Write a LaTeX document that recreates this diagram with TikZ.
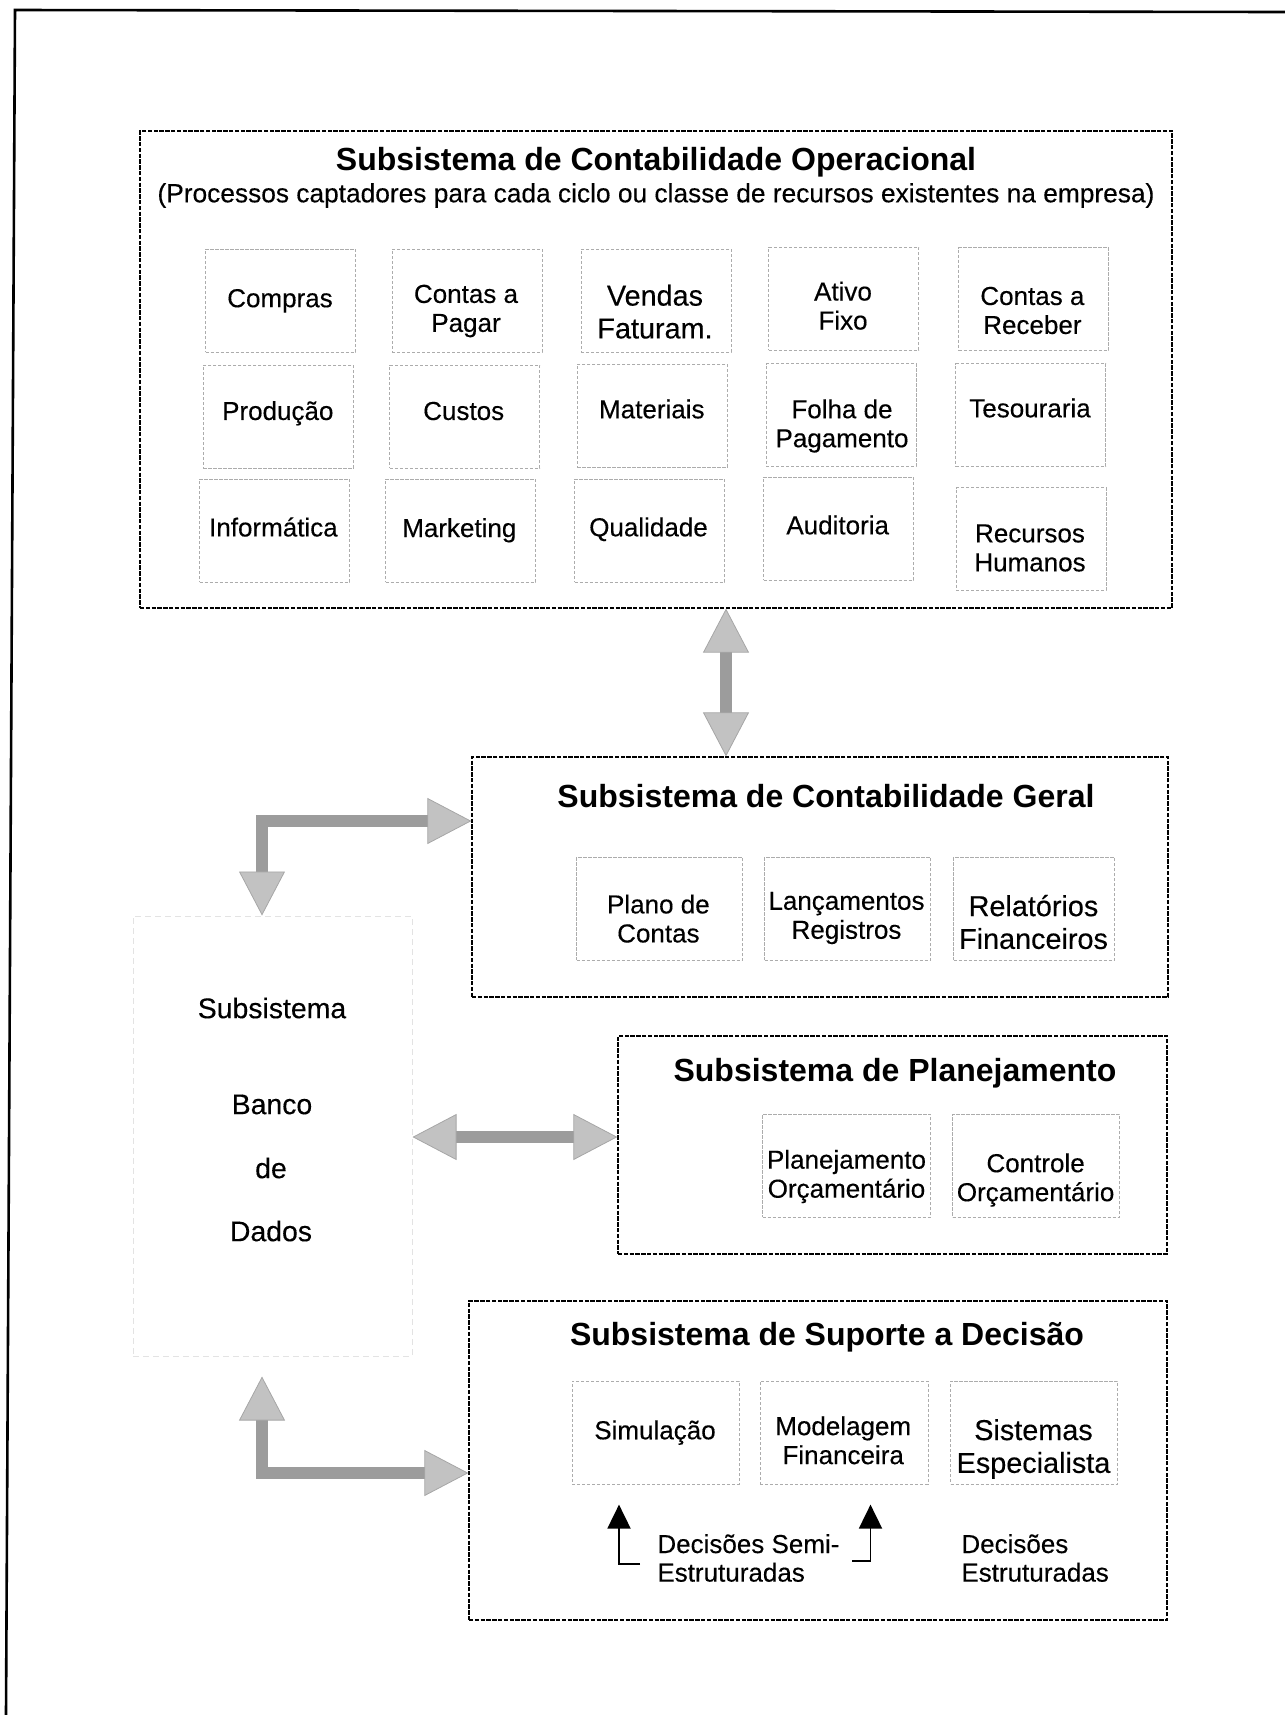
\documentclass[tikz,border=0pt]{standalone}
\usepackage{fontspec}
\setmainfont{Liberation Sans}
% slightly heavier face for the body texts
\newfontfamily\bodyfont{Liberation Sans}[FakeBold=0.3]
\usetikzlibrary{arrows.meta}

% one process cell: box node plus its caption node
% [text style]{name}{box x}{box y}{box width}{text x}{text y}{text}
\newcommand{\mkcell}[8][celltext]{%
  \node[cellbox, minimum width=#5] (#2) at (#3,#4) {};
  \node[#1] (#2-txt) at (#6,#7) {#8};}

\begin{document}
\begin{tikzpicture}[x=0.5pt,y=-0.5pt,
  frame/.style={line width=1.3pt, line join=miter},
  panel/.style={draw=black, line width=0.6pt, dash pattern=on 2.2pt off 0.7pt, inner sep=0pt},
  cellbox/.style={draw=gray!65, line width=0.5pt, dash pattern=on 1.6pt off 0.9pt,
                  minimum height=51.5pt, inner sep=0pt},
  dbbox/.style={draw=gray!22, line width=0.5pt, dash pattern=on 3pt off 2pt, inner sep=0pt},
  celltext/.style={align=center, font=\bodyfont\fontsize{13}{14.5}\selectfont, inner sep=0pt},
  bigtext/.style={align=center, font=\bodyfont\fontsize{14.4}{16.4}\selectfont, inner sep=0pt},
  dbtext/.style={font=\bodyfont\fontsize{14.2}{16}\selectfont, inner sep=0pt},
  decnote/.style={align=left, anchor=west, font=\bodyfont\fontsize{13}{14.3}\selectfont, inner sep=0pt},
  title/.style={font=\fontsize{16}{19}\selectfont\bfseries, inner sep=0pt},
  subtitle/.style={font=\bodyfont\fontsize{13.15}{15}\selectfont, inner sep=0pt},
  garrow/.style={line width=6pt, draw=gray!78, line join=miter,
    arrows={Triangle[width=23pt,length=22pt,color=gray!70,fill=gray!48,line width=0.4pt]-Triangle[width=23pt,length=22pt,color=gray!70,fill=gray!48,line width=0.4pt]}},
  decarrow/.style={line width=0.95pt, line join=miter, -{Triangle[width=11.5pt,length=12pt]}},
]
\useasboundingbox (0,0) rectangle (1285,1715);

% page frame
\draw[frame] (1285,12) -- (15,10) -- (6,1715);

% ---- panels ----
\node[panel, minimum width=516pt, minimum height=238.5pt] (A) at (656,369.5) {};
\node[panel, minimum width=348pt, minimum height=120pt] (B) at (820,877) {};
\node[panel, minimum width=274.5pt, minimum height=109pt] (C) at (892.5,1145) {};
\node[panel, minimum width=349pt, minimum height=159.5pt] (D) at (818,1460.5) {};
\node[dbbox, minimum width=139.5pt, minimum height=220pt] (E) at (272.5,1136) {};

% ---- operational accounting ----
\node[title] (A-title) at (656,162.5) {Subsistema de Contabilidade Operacional};
\node[subtitle] (A-sub) at (656,195.5) {(Processos captadores para cada ciclo ou classe de recursos existentes na empresa)};

\mkcell{compras}{280.5}{300.7}{75pt}{280}{300.8}{Compras}
\mkcell{pagar}{467}{300.7}{75pt}{466}{311}{Contas a\\Pagar}
\mkcell[bigtext]{vendas}{656}{300.5}{75pt}{655}{311.7}{Vendas\\Faturam.}
\mkcell{ativo}{843.7}{298.5}{75pt}{843}{305.7}{Ativo\\Fixo}
\mkcell{receber}{1033.5}{299}{75pt}{1032.4}{310.5}{Contas a\\Receber}

\mkcell{producao}{278.3}{416.7}{75pt}{277.8}{413.3}{Produção}
\mkcell{custos}{464.8}{416.7}{75pt}{463.7}{411}{Custos}
\mkcell{materiais}{652.3}{415.5}{75pt}{651.8}{409}{Materiais}
\mkcell{folha}{841}{415}{75pt}{842}{426}{Folha de\\Pagamento}
\mkcell{tesouraria}{1030.7}{415}{75pt}{1030}{408}{Tesouraria}

\mkcell{informatica}{274.5}{530.5}{75pt}{273.4}{527}{Informática}
\mkcell{marketing}{460.5}{530.5}{75pt}{459.3}{530.3}{Marketing}
\mkcell{qualidade}{649.5}{530.5}{75pt}{648.5}{529.3}{Qualidade}
\mkcell{auditoria}{838.5}{528.5}{75pt}{837.7}{525}{Auditoria}
\mkcell{rh}{1031}{539}{75pt}{1030}{548}{Recursos\\Humanos}

% ---- general accounting ----
\node[title] (B-title) at (826,796) {Subsistema de Contabilidade Geral};
\mkcell{plano}{659.5}{908.8}{83pt}{658.4}{918.6}{Plano de\\Contas}
\mkcell{lanc}{847.5}{908.8}{83pt}{846.5}{918}{Lançamentos\\Registros}
\mkcell[bigtext]{relat}{1034}{908.8}{80.5pt}{1033.5}{922}{Relatórios\\Financeiros}

% ---- planning ----
\node[title] (C-title) at (895,1073) {Subsistema de Planejamento};
\mkcell{planorc}{846.5}{1165.8}{84pt}{846.5}{1176.5}{Planejamento\\Orçamentário}
\mkcell{controle}{1036}{1165.8}{83.5pt}{1035.6}{1180}{Controle\\Orçamentário}

% ---- decision support ----
\node[title] (D-title) at (827,1337) {Subsistema de Suporte a Decisão};
\mkcell{sim}{655.6}{1432.6}{83.5pt}{655}{1432.6}{Simulação}
\mkcell{model}{844.2}{1432.6}{84pt}{843.2}{1440.3}{Modelagem\\Financeira}
\mkcell[bigtext]{sist}{1034}{1432.6}{83.5pt}{1033.5}{1449}{Sistemas\\Especialista}

\node[decnote] (semi) at (657,1558) {Decisões Semi-\\Estruturadas};
\node[decnote] (estr) at (961,1558) {Decisões\\Estruturadas};

\coordinate (semiL) at (640,1564);
\coordinate (semiLx) at (619,0);
\draw[decarrow, shorten >=10pt] (semiL) -| (sim.south -| semiLx);
\coordinate (semiR) at (852,1561);
\coordinate (semiRx) at (870.5,0);
\draw[decarrow, shorten >=10pt] (semiR) -| (model.south -| semiRx);

% ---- database ----
\node[dbtext] (E-l1) at (272,1008) {Subsistema};
\node[dbtext] (E-l2) at (272,1104.5) {Banco};
\node[dbtext] (E-l3) at (271,1168) {de};
\node[dbtext] (E-l4) at (271,1231) {Dados};

% ---- data flows ----
\coordinate (v1) at (726,0);
\draw[garrow] (A.south -| v1) -- (B.north -| v1);

\coordinate (bendA) at (262,821);
\draw[garrow] (B.west |- bendA) -| (E.north -| bendA);

\coordinate (h3) at (0,1137);
\draw[garrow] (E.east |- h3) -- (C.west |- h3);

\coordinate (bendB) at (262,1473);
\draw[garrow, shorten <=10pt] (E.south -| bendB) |- (D.west |- bendB);

\end{tikzpicture}
\end{document}
